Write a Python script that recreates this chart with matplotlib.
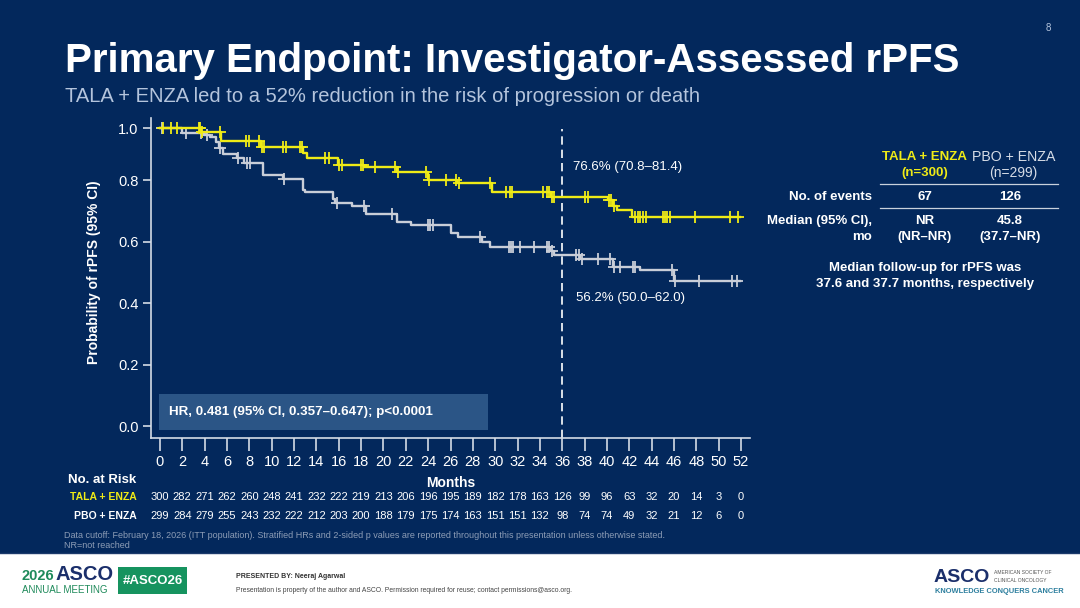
import numpy as np
import matplotlib
matplotlib.use("Agg")
import matplotlib.pyplot as plt
from matplotlib.patches import Rectangle

plt.rcParams['font.family'] = ['Liberation Sans', 'DejaVu Sans']

# ---------------- data ----------------
tala_times = [0, 3.7, 5.5, 9.0, 12.8, 13.2, 15.9, 18.3, 21.2, 24.0, 26.6, 29.7, 35.0, 40.1, 40.5, 40.9, 42.2, 51.9]
tala_surv  = [1.0, 0.987, 0.952, 0.929, 0.904, 0.886, 0.858, 0.850, 0.832, 0.800, 0.789, 0.762, 0.746, 0.735, 0.715, 0.702, 0.679, 0.679]

pbo_times = [0, 2.0, 3.9, 4.5, 5.0, 5.3, 5.6, 6.9, 7.5, 9.2, 11.0, 12.8, 13.0, 15.5, 15.7, 17.2, 18.4, 21.2,
             22.5, 26.0, 26.7, 28.8, 29.5, 34.9, 35.3, 37.6, 40.5, 43.0, 46.0, 51.9]
pbo_surv  = [1.0, 0.983, 0.975, 0.965, 0.948, 0.923, 0.901, 0.884, 0.867, 0.819, 0.803, 0.768, 0.762, 0.738, 0.726, 0.717, 0.689, 0.662,
             0.654, 0.627, 0.616, 0.600, 0.581, 0.570, 0.556, 0.542, 0.518, 0.507, 0.473, 0.473]

tala_censor = [0.3, 1.0, 1.5, 3.5, 3.6, 3.8, 5.4, 7.7, 8.0, 8.9, 9.1, 9.3, 11.0, 11.3, 12.5, 12.7, 14.8, 15.1,
               16.0, 16.3, 18.0, 18.2, 19.2, 21.0, 21.3, 23.8, 24.1, 25.6, 26.5, 26.8, 29.5, 31.0, 31.3, 31.5,
               34.3, 34.6, 34.8, 35.1, 35.3, 38.0, 38.3, 40.2, 40.4, 40.6, 42.5, 42.8, 43.0, 43.2, 43.5,
               45.0, 45.2, 45.4, 45.6, 47.9, 51.0, 51.7]
pbo_censor = [0.2, 2.3, 3.7, 4.2, 5.4, 7.0, 7.8, 8.1, 11.1, 15.8, 18.3, 20.8, 24.0, 24.2, 24.4, 28.6, 31.2,
              31.4, 31.6, 32.2, 33.5, 34.6, 34.8, 35.1, 37.2, 37.5, 37.8, 39.2, 40.3, 40.6, 41.2, 42.3, 42.5,
              45.8, 46.1, 48.2, 51.2, 51.6]

risk_months = list(range(0, 53, 2))
risk_tala = [300, 282, 271, 262, 260, 248, 241, 232, 222, 219, 213, 206, 196, 195, 189, 182, 178, 163, 126, 99, 96, 63, 32, 20, 14, 3, 0]
risk_pbo  = [299, 284, 279, 255, 243, 232, 222, 212, 203, 200, 188, 179, 175, 174, 163, 151, 151, 132, 98, 74, 74, 49, 32, 21, 12, 6, 0]

y_ticks = [0.0, 0.2, 0.4, 0.6, 0.8, 1.0]
landmark_month = 36
label_tala_36 = "76.6% (70.8\u201381.4)"
label_pbo_36 = "56.2% (50.0\u201362.0)"

# ---------------- style ----------------
BG = '#03285C'
YEL = '#EFEB16'
GRY = '#C9CED8'
WHITE = '#FFFFFF'
SUB = '#B4C4DC'
AXC = '#D5DCE6'

W, H = 1080, 608
fig = plt.figure(figsize=(W / 100, H / 100), dpi=100)
fig.patch.set_facecolor(BG)

def fx(x):
    return x / W

def fy(y):
    return 1 - y / H

# axes placement (pixels)
ax_l, ax_r, ax_t, ax_b = 151, 750, 118.3, 438.3
ax = fig.add_axes([fx(ax_l), fy(ax_b), fx(ax_r - ax_l), (ax_b - ax_t) / H])
ax.set_facecolor(BG)

# y scale: top interval (0.8-1.0) is compressed as in the slide
K = 0.8407
def fwd(v):
    v = np.asarray(v, dtype=float)
    return np.where(v <= 0.8, v, 0.8 + (v - 0.8) * K)
def inv(u):
    u = np.asarray(u, dtype=float)
    return np.where(u <= 0.8, u, 0.8 + (u - 0.8) / K)
ax.set_yscale('function', functions=(fwd, inv))
ax.set_ylim(-0.04, 1.0388)
ax.set_xlim(-0.8, 52.8)

def surv_at(times, surv, t):
    idx = np.searchsorted(times, t, side='right') - 1
    return np.asarray(surv)[idx]

for times, surv, cens, col in [(pbo_times, pbo_surv, pbo_censor, GRY),
                               (tala_times, tala_surv, tala_censor, YEL)]:
    ax.step(times, surv, where='post', color=col, lw=1.7, zorder=3)
    cy = surv_at(np.array(times), surv, np.array(cens))
    ax.plot(cens, cy, ls='none', marker='+', ms=8, mew=1.3, color=col, zorder=3)

ax.axvline(landmark_month, ymin=0, ymax=0.965, color=WHITE, lw=1.2, ls=(0, (5, 3)), zorder=2)

for s in ['top', 'right']:
    ax.spines[s].set_visible(False)
for s in ['left', 'bottom']:
    ax.spines[s].set_color(AXC)
    ax.spines[s].set_linewidth(1.2)

ax.set_xticks(risk_months)
ax.set_xticklabels([str(m) for m in risk_months])
ax.set_yticks(y_ticks)
ax.set_yticklabels([f"{v:.1f}" for v in y_ticks])
ax.tick_params(axis='x', direction='out', length=9, width=1.2, color=AXC, labelcolor=WHITE,
               labelsize=10.5, pad=3)
ax.tick_params(axis='y', direction='out', length=6, width=1.2, color=AXC, labelcolor=WHITE,
               labelsize=10.5, pad=3)
ax.minorticks_off()

ax.set_ylabel("Probability of rPFS (95% CI)", color=WHITE, fontsize=10, fontweight='bold')
ax.yaxis.set_label_coords(-0.084, 0.52)
ax.set_xlabel("Months", color=WHITE, fontsize=10, fontweight='bold', labelpad=5)

# landmark labels
ax.text(landmark_month + 1.0, 0.852, label_tala_36, color=WHITE, fontsize=9.5, va='center', ha='left')
ax.text(landmark_month + 1.2, 0.417, label_pbo_36, color=WHITE, fontsize=9.5, va='center', ha='left')

# HR box
fig.patches.append(Rectangle((fx(159), fy(430)), fx(488 - 159), (430 - 394) / H,
                             transform=fig.transFigure, facecolor='#2B5586', edgecolor='none', zorder=1))
fig.text(fx(169), fy(412), "HR, 0.481 (95% CI, 0.357\u20130.647); p<0.0001", color=WHITE,
         fontsize=9.6, fontweight='bold', va='center', ha='left')

# title / subtitle
fig.text(fx(65), fy(61), "Primary Endpoint: Investigator-Assessed rPFS", color=WHITE,
         fontsize=29, fontweight='bold', va='center', ha='left')
fig.text(fx(65), fy(97), "TALA + ENZA led to a 52% reduction in the risk of progression or death",
         color=SUB, fontsize=14.5, va='center', ha='left')
fig.text(fx(1048), fy(28), "8", color=SUB, fontsize=7, va='center', ha='center')

# number at risk
fig.text(fx(68), fy(480), "No. at Risk", color=WHITE, fontsize=9.5, fontweight='bold', va='center', ha='left')
fig.text(fx(137), fy(497), "TALA + ENZA", color=YEL, fontsize=7.5, fontweight='bold', va='center', ha='right')
fig.text(fx(137), fy(516), "PBO + ENZA", color=WHITE, fontsize=7.5, fontweight='bold', va='center', ha='right')
for m, a, b in zip(risk_months, risk_tala, risk_pbo):
    xf = ax.transData.transform((m, 0))[0] / W
    fig.text(xf, fy(497), str(a), color=WHITE, fontsize=8, va='center', ha='center')
    fig.text(xf, fy(516), str(b), color=WHITE, fontsize=8, va='center', ha='center')

fig.text(fx(64), fy(535), "Data cutoff: February 18, 2026 (ITT population). Stratified HRs and 2-sided p values are reported "
         "throughout this presentation unless otherwise stated.", color='#8D9DB6', fontsize=6.5, va='center', ha='left')
fig.text(fx(64), fy(546), "NR=not reached", color='#8D9DB6', fontsize=6.5, va='center', ha='left')

# right summary table
c1, c2, lab_x = 925, 1010, 872
FS = 9.5
fig.text(fx(c1), fy(157), "TALA + ENZA", color=YEL, fontsize=FS, fontweight='bold', ha='center', va='center')
fig.text(fx(c1), fy(173), "(n=300)", color=YEL, fontsize=FS, fontweight='bold', ha='center', va='center')
fig.text(fx(1014), fy(157), "PBO + ENZA", color='#D6DCE6', fontsize=10.2, ha='center', va='center')
fig.text(fx(1013), fy(173), "(n=299)", color='#D6DCE6', fontsize=10, ha='center', va='center')
fig.add_artist(plt.Line2D([fx(880), fx(1058)], [fy(184), fy(184)], color='#C9D1DC', lw=0.9))
fig.add_artist(plt.Line2D([fx(880), fx(1058)], [fy(208), fy(208)], color='#C9D1DC', lw=0.9))
fig.text(fx(lab_x), fy(197), "No. of events", color=WHITE, fontsize=FS, fontweight='bold', ha='right', va='center')
fig.text(fx(c1), fy(197), "67", color=WHITE, fontsize=FS, fontweight='bold', ha='center', va='center')
fig.text(fx(c2), fy(197), "126", color=WHITE, fontsize=FS, fontweight='bold', ha='center', va='center')
fig.text(fx(lab_x), fy(221), "Median (95% CI),", color=WHITE, fontsize=FS, fontweight='bold', ha='right', va='center')
fig.text(fx(lab_x), fy(237), "mo", color=WHITE, fontsize=FS, fontweight='bold', ha='right', va='center')
fig.text(fx(c1), fy(221), "NR", color=WHITE, fontsize=FS, fontweight='bold', ha='center', va='center')
fig.text(fx(c1), fy(237), "(NR\u2013NR)", color=WHITE, fontsize=FS, fontweight='bold', ha='center', va='center')
fig.text(fx(c2), fy(221), "45.8", color=WHITE, fontsize=FS, fontweight='bold', ha='center', va='center')
fig.text(fx(c2), fy(237), "(37.7\u2013NR)", color=WHITE, fontsize=FS, fontweight='bold', ha='center', va='center')
fig.text(fx(925), fy(268), "Median follow-up for rPFS was", color=WHITE, fontsize=FS, fontweight='bold', ha='center', va='center')
fig.text(fx(925), fy(284), "37.6 and 37.7 months, respectively", color=WHITE, fontsize=FS, fontweight='bold', ha='center', va='center')

# footer
fig.patches.append(Rectangle((0, 0), 1, (H - 553) / H, transform=fig.transFigure,
                             facecolor='white', edgecolor='none', zorder=1))
fig.add_artist(plt.Line2D([0, 1], [fy(553), fy(553)], color='#1B3A6B', lw=1.0))
GREEN = '#1E8A5A'
NAVY = '#1B2F6B'
fig.text(fx(22), fy(576), "2026", color=GREEN, fontsize=10.5, fontweight='bold', ha='left', va='center')
fig.text(fx(56), fy(575), "ASCO", color=NAVY, fontsize=14.5, fontweight='bold', ha='left', va='center')
fig.text(fx(22), fy(590), "ANNUAL MEETING", color=GREEN, fontsize=7, ha='left', va='center')
fig.patches.append(Rectangle((fx(118), fy(594)), fx(187 - 118), (594 - 567) / H, transform=fig.transFigure,
                             facecolor='#16935F', edgecolor='none', zorder=2))
fig.text(fx(152.5), fy(580.5), "#ASCO26", color='white', fontsize=9.5, fontweight='bold', ha='center', va='center', zorder=3)
fig.text(fx(236), fy(576), "PRESENTED BY: Neeraj Agarwal", color='#333333', fontsize=5.0, fontweight='bold', ha='left', va='center')
fig.text(fx(236), fy(591), "Presentation is property of the author and ASCO. Permission required for reuse; contact permissions@asco.org.",
         color='#444444', fontsize=4.85, ha='left', va='center')
fig.text(fx(934), fy(577), "ASCO", color=NAVY, fontsize=14, fontweight='bold', ha='left', va='center')
fig.text(fx(994), fy(573), "AMERICAN SOCIETY OF", color='#555555', fontsize=3.6, ha='left', va='center')
fig.text(fx(994), fy(580), "CLINICAL ONCOLOGY", color='#555555', fontsize=3.6, ha='left', va='center')
fig.text(fx(935), fy(591.5), "KNOWLEDGE CONQUERS CANCER", color='#2D7F9E', fontsize=5.4, fontweight='bold', ha='left', va='center')

fig.savefig("out.png", dpi=100, facecolor=fig.get_facecolor())
